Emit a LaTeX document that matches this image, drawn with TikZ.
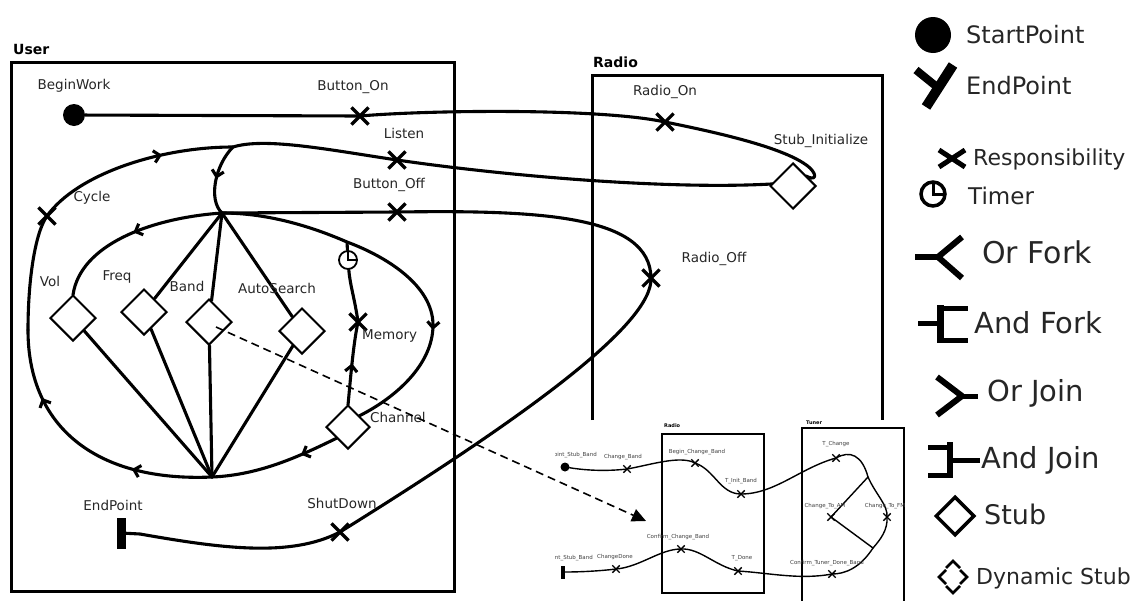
\documentclass[tikz,border=0pt]{standalone}
\usepackage{fontspec}
\setmainfont{DejaVu Sans}
\usetikzlibrary{shapes.geometric,shapes.misc,arrows.meta,decorations.markings}
\begin{document}
\begin{tikzpicture}[x=1pt,y=-1pt,
  ucm/.style={line width=3.1pt, line cap=round, line join=round},
  box/.style={line width=3pt},
  resp/.style={cross out, draw, line width=3.2pt, minimum size=14pt, inner sep=0pt},
  stubbox/.style={diamond, draw, fill=white, line width=2pt, minimum size=46pt, inner sep=0pt},
  lbl/.style={font=\fontsize{13.5}{15}\selectfont, text=black!85, inner sep=0pt},
  ttl/.style={font=\bfseries\fontsize{14}{16}\selectfont, inner sep=0pt},
  arr/.style={postaction={decorate,decoration={markings,mark=at position #1 with {\arrow{Straight Barb[length=6pt,width=12pt]}}}}},
  ipath/.style={line width=1.4pt, line cap=round, line join=round},
  iresp/.style={cross out, draw, line width=1.4pt, minimum size=6pt, inner sep=0pt},
  ilbl/.style={font=\fontsize{5.5}{6}\selectfont, text=black!75, inner sep=0pt},
  lg/.style={anchor=west, inner sep=0pt, text=black!85},
]
\useasboundingbox (0,0) rectangle (1134,600);

% ---------- boxes ----------
\draw[box] (11,62) rectangle (454,591);
\node[ttl, anchor=west] (userT) at (13,49) {User};
\draw[box] (592,420) -- (592,75) -- (882,75) -- (882,420);
\node[ttl, anchor=west] (radioT) at (593,62) {Radio};

% ---------- main nodes ----------
\node[circle, fill=black, minimum size=22pt, inner sep=0pt] (S) at (74,115) {};
\node[resp] (B1) at (360,116) {};
\node[resp] (R1) at (665,122) {};
\node[resp] (L1) at (397,160) {};
\coordinate (J) at (233,147);
\coordinate (F) at (222,213);
\node[resp] (B2) at (397,212) {};
\node[resp] (RO) at (651,278) {};
\node[resp] (SD) at (340,532) {};
\node[fill=black, minimum width=9pt, minimum height=31pt, inner sep=0pt] (E) at (121,533) {};
\node[resp] (C1) at (47,216) {};
\coordinate (Bt) at (212,477);
\coordinate (T0) at (347,242);
\coordinate (A) at (433,325);
\coordinate (Lw) at (28,330);
\coordinate (BE) at (140,534);
\node[resp] (M1) at (358,322) {};
\node[circle, draw, fill=white, line width=1.8pt, minimum size=18pt, inner sep=0pt] (Tm) at (348,260) {};
\draw[line width=1.5pt] (Tm.north) -- (Tm.center) -- (Tm.east);

% ---------- paths ----------
\draw[ucm] (S) -- (B1.center);
\draw[ucm] (B1.center) .. controls (430,110) and (600,108) .. (R1.center);
\draw[ucm] (R1.center) .. controls (730,135) and (790,150) .. (810,168) .. controls (818,176) and (815,181) .. (806,176);
\draw[ucm] (797,182) .. controls (700,192) and (520,178) .. (L1.center) .. controls (330,150) and (265,137) .. (J);
\draw[ucm, arr=0.5] (J) .. controls (215,165) and (208,200) .. (F);
\draw[ucm, arr=0.3, arr=0.74] (Bt) .. controls (100,482) and (28,430) .. (Lw);
\draw[ucm] (Lw) .. controls (28,280) and (35,233) .. (C1.center);
\draw[ucm, arr=0.65] (C1.center) .. controls (77,174) and (160,147) .. (J);
\draw[ucm, arr=0.5] (F) .. controls (150,218) and (80,245) .. (73,295);
\draw[ucm] (F) .. controls (270,213) and (315,228) .. (T0) .. controls (385,256) and (433,285) .. (A);
\draw[ucm, arr=0.04] (A) .. controls (433,365) and (395,398) .. (359,416);
\draw[ucm] (T0) -- (Tm);
\draw[ucm, arr=0.5] (348,405) .. controls (350,385) and (353,345) .. (M1.center);
\draw[ucm] (M1.center) .. controls (355,300) and (350,285) .. (Tm);
\draw[ucm, arr=0.3] (337,438) .. controls (300,456) and (260,475) .. (Bt);
\draw[ucm] (F) -- (B2.center) .. controls (540,210) and (650,215) .. (RO.center) .. controls (653,325) and (520,420) .. (SD.center) .. controls (290,558) and (220,548) .. (BE) -- (E);

% ---------- stubs ----------
\node[stubbox] (SI) at (793,186) {};
\node[stubbox] (Vol) at (73,318) {};
\node[stubbox] (Freq) at (144,312) {};
\node[stubbox] (Band) at (209,322) {};
\node[stubbox] (Auto) at (302,331) {};
\node[stubbox, minimum size=44pt] (Ch) at (348,427) {};
\foreach \n in {Freq,Band,Auto} \draw[ucm] (F) -- (\n);
\foreach \n in {Vol,Freq,Band,Auto} \draw[ucm] (\n) -- (Bt);

% ---------- labels ----------
\node[lbl] (lBW) at (74,86) {BeginWork};
\node[lbl] (lBO) at (353,87) {Button\_On};
\node[lbl] (lLi) at (404,133) {Listen};
\node[lbl] (lBF) at (389,185) {Button\_Off};
\node[lbl] (lCy) at (92,198) {Cycle};
\node[lbl] (lVo) at (50,281) {Vol};
\node[lbl] (lFr) at (117,277) {Freq};
\node[lbl] (lBa) at (187,286) {Band};
\node[lbl] (lAu) at (277,288) {AutoSearch};
\node[lbl, anchor=west] (lMe) at (362,336) {Memory};
\node[lbl, anchor=west] (lCh) at (370,417) {Channel};
\node[lbl] (lEP) at (113,505) {EndPoint};
\node[lbl] (lSD) at (342,503) {ShutDown};
\node[lbl] (lRO) at (665,92) {Radio\_On};
\node[lbl] (lSI) at (821,141) {Stub\_Initialize};
\node[lbl] (lRF) at (714,259) {Radio\_Off};

% ---------- inset ----------
\begin{scope}
\clip (555,415) rectangle (910,600);
\draw[line width=1.4pt] (662,434) rectangle (764,593);
\draw[line width=1.4pt] (802,605) -- (802,428) -- (904,428) -- (904,605);
\node[anchor=west, inner sep=0pt, font=\bfseries\fontsize{5}{6}\selectfont] (iR) at (664,426) {Radio};
\node[anchor=west, inner sep=0pt, font=\bfseries\fontsize{5}{6}\selectfont] (iT) at (806,423) {Tuner};
\node[circle, fill=black, minimum size=9pt, inner sep=0pt] (IS) at (565,467) {};
\node[iresp] (CB) at (627,469) {};
\node[iresp] (BCB) at (695,463) {};
\node[iresp] (TIB) at (741,494) {};
\node[iresp] (TC) at (836,458) {};
\node[iresp] (CTA) at (831,517) {};
\node[iresp] (CTF) at (887,517) {};
\node[iresp] (CTDB) at (832,574) {};
\node[iresp] (TD) at (738,571) {};
\node[iresp] (CCB) at (681,549) {};
\node[iresp] (CD) at (616,569) {};
\coordinate (Fk) at (868,477);
\coordinate (Jn) at (873,548);
\node[fill=black, minimum width=3.5pt, minimum height=13pt, inner sep=0pt] (IE) at (563,572) {};
\draw[ipath] (IS) .. controls (590,471) and (610,471) .. (CB.center) .. controls (650,465) and (680,455) .. (BCB.center) .. controls (715,470) and (720,494) .. (TIB.center) .. controls (775,494) and (800,468) .. (TC.center) .. controls (850,450) and (862,455) .. (Fk) .. controls (876,495) and (888,505) .. (CTF.center) .. controls (888,530) and (880,540) .. (Jn);
\draw[ipath] (Fk) -- (CTA.center) -- (Jn);
\draw[ipath] (Jn) .. controls (860,568) and (845,574) .. (CTDB.center) .. controls (800,580) and (770,573) .. (TD.center) .. controls (715,566) and (700,548) .. (CCB.center) .. controls (660,549) and (640,567) .. (CD.center) .. controls (600,571) and (580,572) .. (IE);
\node[ilbl, anchor=east] (iSP) at (597,455) {StartPoint\_Stub\_Band};
\node[ilbl] (iCB) at (623,457) {Change\_Band};
\node[ilbl] (iBCB) at (697,452) {Begin\_Change\_Band};
\node[ilbl] (iTIB) at (741,481) {T\_Init\_Band};
\node[ilbl] (iTC) at (836,444) {T\_Change};
\node[ilbl] (iCTA) at (825,506) {Change\_To\_AM};
\node[ilbl] (iCTF) at (885,506) {Change\_To\_FM};
\node[ilbl] (iCTDB) at (827,563) {Confirm\_Tuner\_Done\_Band};
\node[ilbl] (iTD) at (742,558) {T\_Done};
\node[ilbl] (iCCB) at (678,537) {Confirm\_Change\_Band};
\node[ilbl] (iCD) at (615,557) {ChangeDone};
\node[ilbl, anchor=east] (iEP) at (593,558) {EndPoint\_Stub\_Band};
\end{scope}

% ---------- dashed link ----------
\coordinate (DA) at (216,327);
\coordinate (DT) at (646,521);
\draw[line width=1.6pt, dash pattern=on 8pt off 5pt, -{Triangle[length=14pt,width=13pt]}] (DA) -- (DT);

% ---------- legend ----------
\node[circle, fill=black, minimum size=36pt, inner sep=0pt] (lgS) at (933,35) {};
\node[lg, font=\fontsize{24}{26}\selectfont] (lgSt) at (966,35) {StartPoint};
\draw[line width=10pt] (953,65) -- (926,107);
\draw[line width=8pt] (916,70) -- (937,87);
\node[lg, font=\fontsize{24}{26}\selectfont] (lgEt) at (966,86) {EndPoint};
\draw[line width=5pt] (939,150) -- (965,167) (939,167) -- (965,150);
\node[lg, font=\fontsize{22}{24}\selectfont] (lgRt) at (973,159) {Responsibility};
\draw[line width=3.5pt] (933,194) circle (12);
\draw[line width=3pt] (933,182) -- (933,194) -- (945,194);
\node[lg, font=\fontsize{23}{25}\selectfont] (lgTt) at (968,196) {Timer};
\draw[line width=6pt] (915,257) -- (938,257);
\draw[line width=6pt, line join=round] (962,237) -- (938,257) -- (962,278);
\node[lg, font=\fontsize{30}{32}\selectfont] (lgOF) at (982,252) {Or Fork};
\draw[line width=5pt] (918,323) -- (940,323);
\fill (937,305) rectangle (944,343);
\draw[line width=5pt] (942,308) -- (968,308) (942,340) -- (968,340);
\node[lg, font=\fontsize{29}{31}\selectfont] (lgAF) at (974,323) {And Fork};
\draw[line width=6pt, line join=round] (937,377) -- (962,396) -- (937,415);
\draw[line width=5pt] (962,396) -- (978,396);
\node[lg, font=\fontsize{29}{31}\selectfont] (lgOJ) at (987,393) {Or Join};
\draw[line width=5pt] (928,447) -- (950,447) (928,475) -- (950,475);
\fill (947,442) rectangle (953,478);
\draw[line width=5pt] (953,460) -- (980,460);
\node[lg, font=\fontsize{29}{31}\selectfont] (lgAJ) at (981,460) {And Join};
\node[diamond, draw, line width=3.5pt, minimum size=39pt, inner sep=0pt] (lgSb) at (955,516) {};
\node[lg, font=\fontsize{27}{29}\selectfont] (lgSbt) at (984,514) {Stub};
\draw[line width=2.6pt, line join=miter] (946,568) -- (953,561) -- (960,568)
  (960,570) -- (967,577) -- (960,584) (960,586) -- (953,593) -- (946,586)
  (946,584) -- (939,577) -- (946,570);
\node[lg, font=\fontsize{22}{24}\selectfont] (lgDSt) at (976,578) {Dynamic Stub};
\end{tikzpicture}
\end{document}
